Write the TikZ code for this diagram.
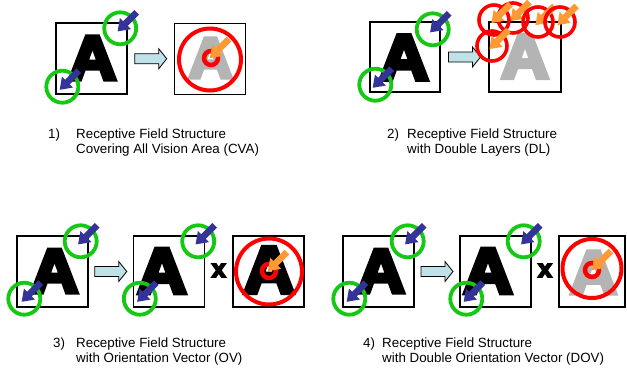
\documentclass[tikz,border=0pt]{standalone}
\usepackage{fontspec}
\setmainfont{Liberation Sans}
\newfontfamily\heavyfont{Liberation Sans Bold}[FakeBold=7]
\usetikzlibrary{calc}

\definecolor{rfgreen}{RGB}{20,200,20}
\definecolor{arrowblue}{RGB}{51,51,153}
\definecolor{arroworange}{RGB}{255,153,51}
\definecolor{rfred}{RGB}{255,0,0}
\definecolor{agray}{RGB}{180,180,180}
\definecolor{flowfill}{RGB}{190,226,232}

\tikzset{
  % fat arrow, tail at the origin, tip 27 units along +x
  fatarrow/.pic={\fill[#1] (0,-3.3) -- (16,-3.3) -- (16,-7.8) -- (27,0) -- (16,7.8) -- (16,3.3) -- (0,3.3) -- cycle;},
  % light block arrow between two frames
  flowarrow/.pic={\filldraw[fill=flowfill, draw=black, line width=0.8pt]
      (-16,-5) -- (8,-5) -- (8,-10) -- (16,0) -- (8,10) -- (8,5) -- (-16,5) -- cycle;},
  % green receptive field with its blue orientation arrow
  rfield/.pic={\draw[draw=rfgreen, line width=3.8pt] (0,0) circle[radius=16];
      \pic[rotate=225] at (16.5,-16) {fatarrow=arrowblue};},
  frame/.style={draw=black, line width=1.4pt, minimum width=71pt, minimum height=71pt, inner sep=0pt},
  letterA/.style={font=\fontsize{#1}{#1}\heavyfont, inner sep=0pt},
  letterA/.default=62,
  times/.style={font=\fontsize{25}{25}\heavyfont, inner sep=0pt},
  bigring/.style={draw=rfred, line width=4pt},
  smallring/.style={draw=rfred, line width=4.5pt},
  caption/.style={font=\fontsize{13.35}{15}\selectfont, inner sep=0pt, anchor=base west},
}
% the stimulus letter, set slightly wide
\newcommand{\wideA}{\scalebox{1.06}[1]{A}}

\begin{document}
\begin{tikzpicture}[x=1pt,y=-1pt]
\useasboundingbox (0,0) rectangle (627,368);

% ---------- 1) CVA ----------
\node[frame] (b1a) at (91.5,58.5) {};
\node[frame] (b1b) at (210,59) {};
\node[letterA] (a1a) at (92.5,58) {\wideA};
\node[letterA=57, text=agray] (a1b) at (210.5,58) {\wideA};
\pic at ($(b1a.north east)+(-7.5,6)$) {rfield};
\pic at ($(b1a.south west)+(7,-8)$) {rfield};
\pic at ($(b1a.east)!0.5!(b1b.west)$) {flowarrow};
\draw[bigring] (210,59.5) circle[radius=31];
\draw[smallring] (211,58) circle[radius=7];
\pic[rotate=225] at (229,39) {fatarrow=arroworange};

\node[caption] (n1) at (48,138) {1)};
\node[caption] (t1a) at (76,138) {Receptive Field Structure};
\node[caption] (t1b) at (76,153) {Covering All Vision Area (CVA)};

% ---------- 2) DL ----------
\node[frame, minimum width=70pt, minimum height=70pt] (b2a) at (405,57) {};
\node[frame, minimum width=72pt, minimum height=70pt] (b2b) at (525,57) {};
\node[letterA=64] (a2a) at (404,57.5) {\wideA};
\node[letterA=62, text=agray] (a2b) at (525,56.5) {\wideA};
\pic at ($(b2a.north east)+(-8,8)$) {rfield};
\pic at ($(b2a.south west)+(6,-8)$) {rfield};
\pic at ($(b2a.east)!0.5!(b2b.west)$) {flowarrow};
\foreach \cx/\cy in {513/18, 494/20, 538/22, 560/22, 492/46}{
  \draw[bigring, line width=3.6pt] (\cx,\cy) circle[radius=15];
  \pic[rotate=225] at (\cx+16.5,\cy-16) {fatarrow=arroworange};
}

\node[caption] (n2) at (387,138) {2)};
\node[caption] (t2a) at (407,138) {Receptive Field Structure};
\node[caption] (t2b) at (407,153) {with Double Layers (DL)};

% ---------- 3) OV ----------
\node[frame] (b3a) at (52.5,271.5) {};
\node[frame] (b3b) at (169,271.5) {};
\node[frame] (b3c) at (268.5,271.5) {};
\node[letterA] (a3a) at (54.5,271) {\wideA};
\node[letterA=64] (a3b) at (162,271) {\wideA};
\node[letterA=66] (a3c) at (269,270) {\wideA};
\pic at ($(b3a.north east)+(-8,6)$) {rfield};
\pic at ($(b3a.south west)+(8,-9)$) {rfield};
\pic at ($(b3b.north east)+(-7,6)$) {rfield};
\pic at ($(b3b.south west)+(7,-9)$) {rfield};
\pic at ($(b3a.east)!0.5!(b3b.west)$) {flowarrow};
\node[times] (x3) at ($(b3b.east)!0.5!(b3c.west)+(0,-1)$) {x};
\draw[bigring] (269,271.5) circle[radius=33];
\draw[smallring] (269,271) circle[radius=7];
\pic[rotate=225] at (287,252) {fatarrow=arroworange};

\node[caption] (n3) at (53,347) {3)};
\node[caption] (t3a) at (76,347) {Receptive Field Structure};
\node[caption] (t3b) at (76,362) {with Orientation Vector (OV)};

% ---------- 4) DOV ----------
\node[frame] (b4a) at (378.5,271.5) {};
\node[frame] (b4b) at (495.5,271.5) {};
\node[frame, minimum width=66pt] (b4c) at (592,271.5) {};
\node[letterA] (a4a) at (381,271) {\wideA};
\node[letterA=64] (a4b) at (488,271) {\wideA};
\node[letterA=61, text=agray] (a4c) at (593.5,272.5) {\wideA};
\pic at ($(b4a.north east)+(-7,6)$) {rfield};
\pic at ($(b4a.south west)+(7,-9)$) {rfield};
\pic at ($(b4b.north east)+(-8,6)$) {rfield};
\pic at ($(b4b.south west)+(7,-9)$) {rfield};
\pic at ($(b4a.east)!0.5!(b4b.west)$) {flowarrow};
\node[times] (x4) at ($(b4b.east)!0.5!(b4c.west)+(0,-1)$) {x};
\draw[bigring] (592,268.5) circle[radius=29.5];
\draw[smallring] (592,270) circle[radius=7];
\pic[rotate=225] at (611,251) {fatarrow=arroworange};

\node[caption] (n4) at (363,347) {4)};
\node[caption] (t4a) at (382,347) {Receptive Field Structure};
\node[caption] (t4b) at (382,362) {with Double Orientation Vector (DOV)};
\end{tikzpicture}
\end{document}
